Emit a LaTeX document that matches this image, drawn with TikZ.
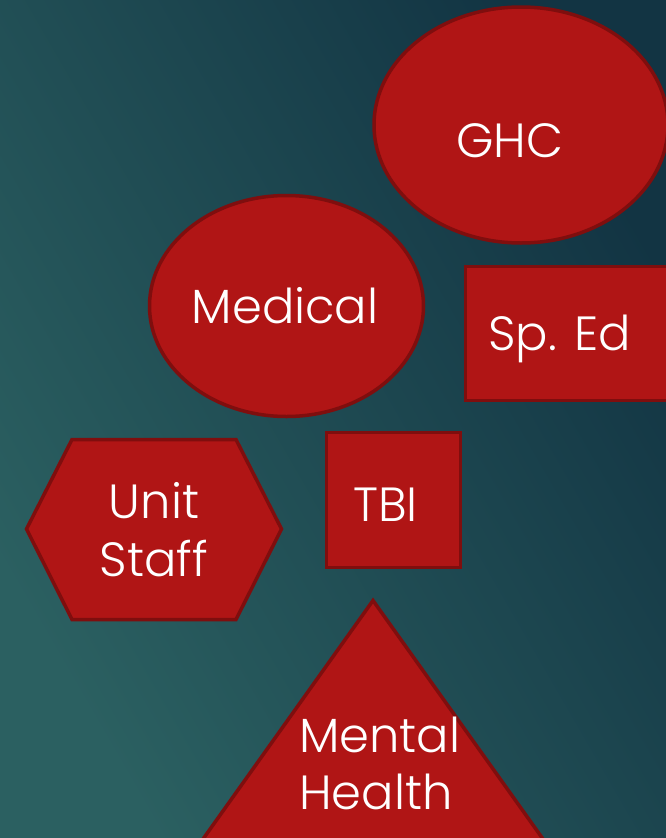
\documentclass[tikz,border=0pt]{standalone}
\usepackage{fontspec}
\setmainfont{Poppins Light}
\usetikzlibrary{shapes.geometric}

\definecolor{bglight}{HTML}{2B6061}
\definecolor{bgdark}{HTML}{123443}
\definecolor{shapefill}{HTML}{B01515}
\definecolor{shapeedge}{HTML}{7F0E0E}

\tikzset{
  blob/.style={fill=shapefill, draw=shapeedge, line width=3.5pt, line join=miter},
  label/.style={text=white, inner sep=0pt, font=\fontsize{48}{57}\selectfont},
}

\begin{document}
\begin{tikzpicture}[x=1pt, y=-1pt]
  \useasboundingbox (0,0) rectangle (666,838);
  \clip (0,0) rectangle (666,838);

  % backdrop
  \shade[top color=bgdark, bottom color=bglight, shading angle=-60]
    (0,0) rectangle (666,838);

  % shapes
  \node[blob, ellipse, minimum width=294pt, minimum height=236pt, inner sep=0pt]
    (ghc) at (521,125) {};
  \node[blob, ellipse, minimum width=274pt, minimum height=221pt, inner sep=0pt]
    (medical) at (286.5,306) {};
  \draw[blob] (465.5,266.5) rectangle (690,400.5);
  \draw[blob] (326.5,432.5) rectangle (460.5,567.5);
  \draw[blob] (26.5,529) -- (72,439.5) -- (236,439.5) -- (281.5,529)
    -- (236,619.5) -- (72,619.5) -- cycle;
  \draw[blob] (373,600.5) -- (590,905) -- (156,905) -- cycle;

  % labels
  \node[label, anchor=base] (ghc-text) at (510,157) {GHC};
  \node[label, anchor=base] (medical-text) at (285,323) {Medical};
  \node[label, anchor=base] (sped-text) at (559.5,350) {Sp. Ed};
  \node[label, anchor=base] (tbi-text) at (385.5,521) {TBI};
  \node[label, anchor=base] (unit-text) at (154,518) {Unit};
  \node[label, anchor=base] (staff-text) at (154,576) {Staff};
  \node[label, anchor=base west] (mental-text) at (299,752) {Mental};
  \node[label, anchor=base west] (health-text) at (299,809) {Health};
\end{tikzpicture}
\end{document}
